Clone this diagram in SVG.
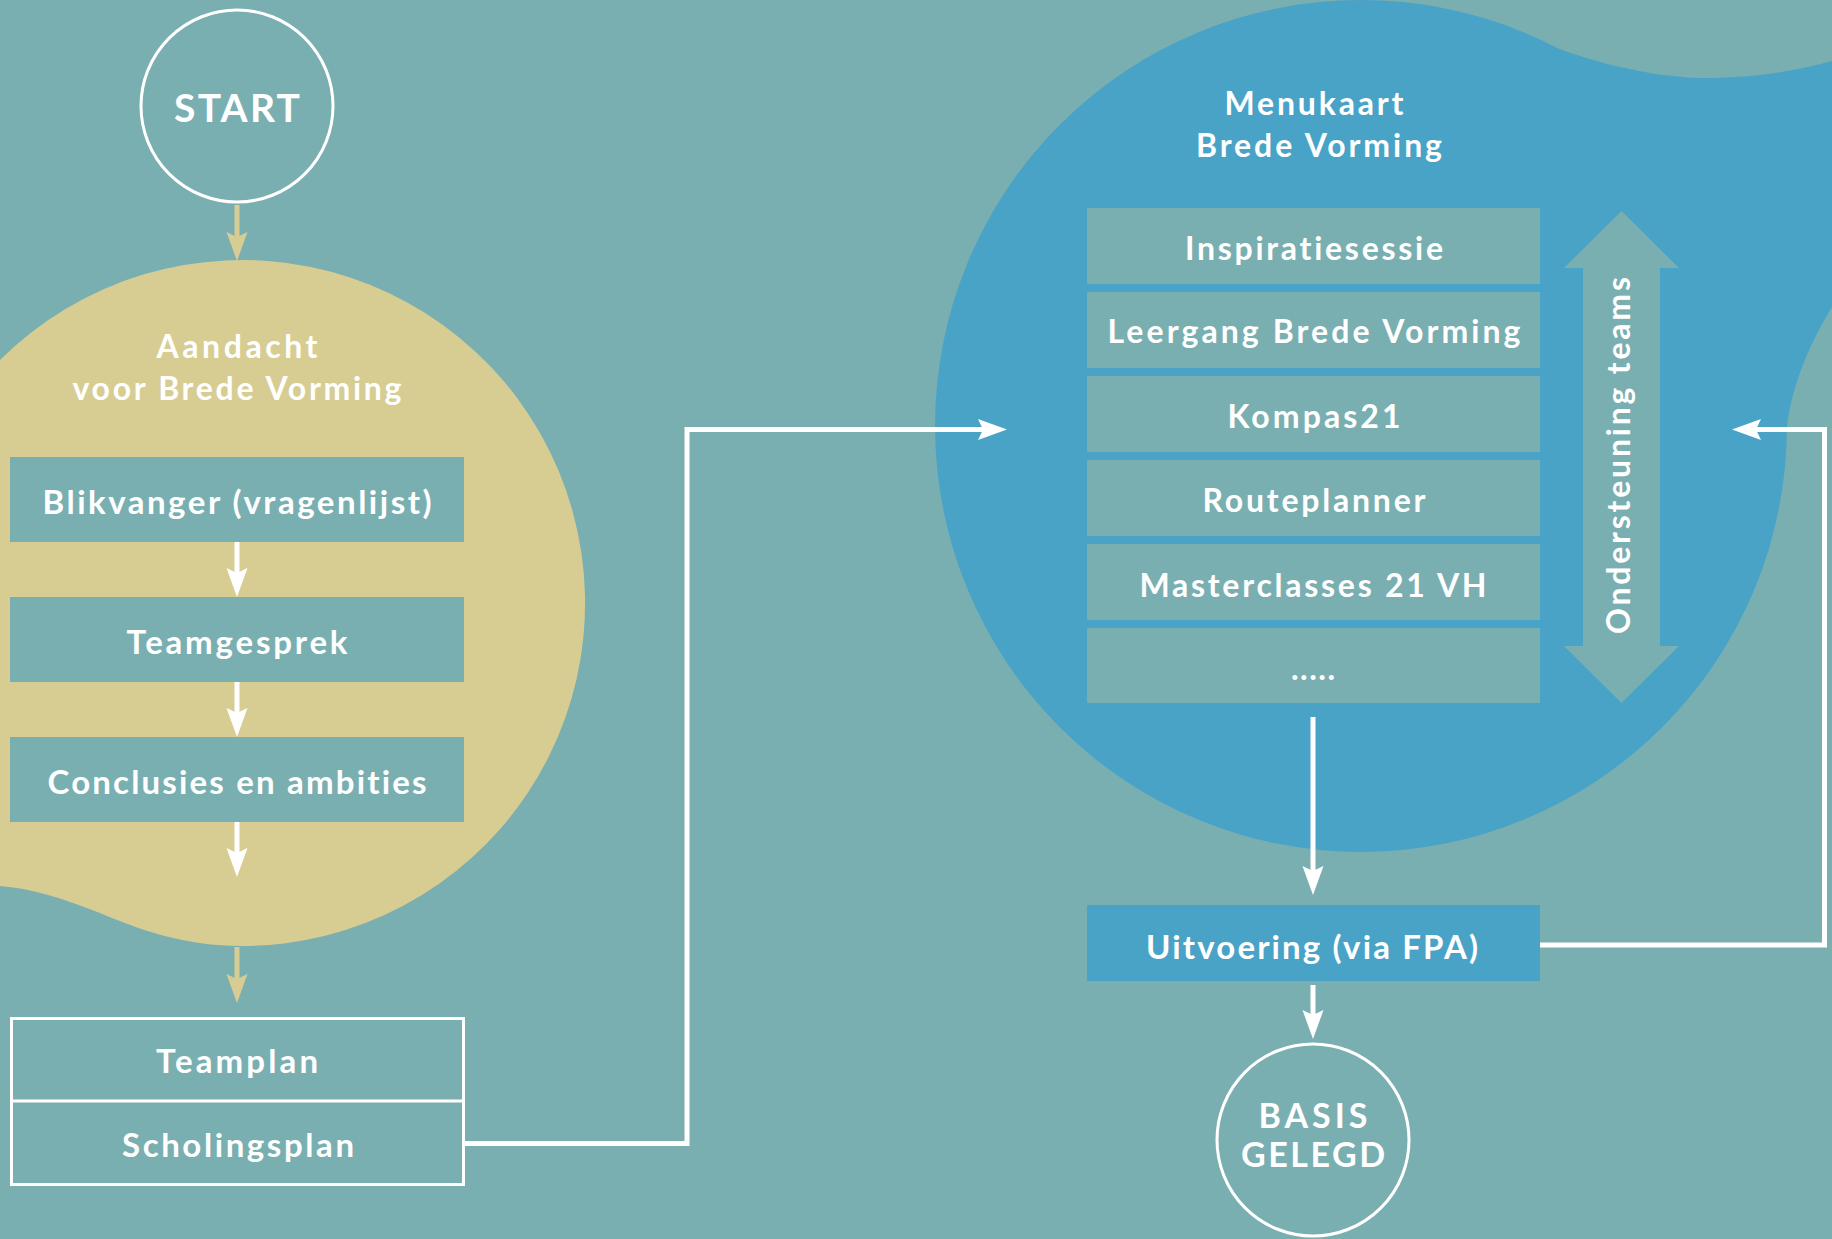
<svg xmlns="http://www.w3.org/2000/svg" xmlns:xlink="http://www.w3.org/1999/xlink" width="1832" height="1239" viewBox="0 0 1832 1239">
<style>
.t{fill:#fff;font-family:Lato,"Open Sans","DejaVu Sans",sans-serif;font-weight:700;text-anchor:middle;font-variant-ligatures:none;}
.box{fill:#7AAFB2;}
.wl{stroke:#fff;stroke-width:5;fill:none;}
.yl{stroke:#D7CD93;stroke-width:5;fill:none;}
</style>
<defs>
<path id="ah" d="M0,0 L-29,-10.5 L-24,0 L-29,10.5 Z"/>
</defs>
<rect x="0" y="0" width="1832" height="1239" fill="#7AAFB2"/>

<g id="aandacht">
<path d="M0,360 A343,343 0 1 1 242,946 C185,946 140,930 100,913 C65,899 30,888 0,886 Z" fill="#D7CD93"/>
<text class="t" x="237" y="358" font-size="32" textLength="161">Aandacht</text>
<text class="t" x="237" y="400" font-size="32" textLength="329">voor Brede Vorming</text>
</g>

<g id="menukaart">
<circle cx="1361" cy="426" r="426" fill="#49A3C7"/>
<path d="M1540,42 C1600,65 1660,79 1713,78 C1760,77 1800,70 1832,61 L1832,307 C1812,340 1793,380 1787,426 Z" fill="#49A3C7"/>
<text class="t" x="1314" y="115" font-size="32" textLength="179">Menukaart</text>
<text class="t" x="1319" y="157" font-size="32" textLength="246">Brede Vorming</text>
</g>

<g id="start">
<circle cx="237" cy="106" r="96" fill="none" stroke="#fff" stroke-width="3"/>
<text class="t" x="237" y="122" font-size="39" textLength="126">START</text>
</g>

<g id="blikvanger">
<rect class="box" x="10" y="457" width="454" height="85"/>
<text class="t" x="237" y="514" font-size="33" textLength="389">Blikvanger (vragenlijst)</text>
</g>
<g id="teamgesprek">
<rect class="box" x="10" y="597" width="454" height="85"/>
<text class="t" x="237" y="654" font-size="33" textLength="221">Teamgesprek</text>
</g>
<g id="conclusies">
<rect class="box" x="10" y="737" width="454" height="85"/>
<text class="t" x="237" y="794" font-size="33" textLength="379">Conclusies en ambities</text>
</g>

<g id="plannen">
<rect x="11.5" y="1018.5" width="452" height="166" fill="none" stroke="#fff" stroke-width="3"/>
<line x1="11.5" y1="1101" x2="463.5" y2="1101" stroke="#fff" stroke-width="3"/>
<text class="t" x="237" y="1073" font-size="33" textLength="162">Teamplan</text>
<text class="t" x="238" y="1157" font-size="33" textLength="232">Scholingsplan</text>
</g>

<g id="inspiratiesessie">
<rect class="box" x="1087" y="208" width="453" height="76"/>
<text class="t" x="1314" y="260" font-size="32" textLength="258">Inspiratiesessie</text>
</g>
<g id="leergang">
<rect class="box" x="1087" y="292" width="453" height="76"/>
<text class="t" x="1314" y="343" font-size="32" textLength="413">Leergang Brede Vorming</text>
</g>
<g id="kompas21">
<rect class="box" x="1087" y="376" width="453" height="76"/>
<text class="t" x="1314" y="428" font-size="32" textLength="173">Kompas21</text>
</g>
<g id="routeplanner">
<rect class="box" x="1087" y="460" width="453" height="76"/>
<text class="t" x="1314" y="512" font-size="32" textLength="223">Routeplanner</text>
</g>
<g id="masterclasses">
<rect class="box" x="1087" y="544" width="453" height="76"/>
<text class="t" x="1313" y="597" font-size="32" textLength="347">Masterclasses 21 VH</text>
</g>
<g id="meer">
<rect class="box" x="1087" y="628" width="453" height="75"/>
<text class="t" x="1313" y="680" font-size="32" textLength="44">.....</text>
</g>

<g id="ondersteuning">
<polygon points="1621.5,211 1679,268 1660,268 1660,646 1679,646 1621.5,703 1564,646 1583,646 1583,268 1564,268" fill="#7AAFB2"/>
<text class="t" transform="translate(1630,455.5) rotate(-90)" x="0" y="0" font-size="32" textLength="357">Ondersteuning teams</text>
</g>

<g id="uitvoering">
<rect x="1087" y="905" width="453" height="76" fill="#49A3C7"/>
<text class="t" x="1312" y="959" font-size="33" textLength="332">Uitvoering (via FPA)</text>
</g>

<g id="basis">
<circle cx="1313" cy="1140" r="96" fill="none" stroke="#fff" stroke-width="3"/>
<text class="t" x="1313" y="1128" font-size="34" textLength="109">BASIS</text>
<text class="t" x="1313" y="1167" font-size="34" textLength="144">GELEGD</text>
</g>

<g id="connectors">
<line class="yl" x1="237" y1="205" x2="237" y2="237"/>
<use href="#ah" fill="#D7CD93" transform="translate(237,261) rotate(90)"/>
<line class="wl" x1="237" y1="542" x2="237" y2="573"/>
<use href="#ah" fill="#fff" transform="translate(237,597) rotate(90)"/>
<line class="wl" x1="237" y1="682" x2="237" y2="713"/>
<use href="#ah" fill="#fff" transform="translate(237,737) rotate(90)"/>
<line class="wl" x1="237" y1="822" x2="237" y2="853"/>
<use href="#ah" fill="#fff" transform="translate(237,877) rotate(90)"/>
<line class="yl" x1="237" y1="947" x2="237" y2="979"/>
<use href="#ah" fill="#D7CD93" transform="translate(237,1003) rotate(90)"/>
<polyline class="wl" points="465,1143.5 687,1143.5 687,429.5 983,429.5"/>
<use href="#ah" fill="#fff" transform="translate(1007,429.5)"/>
<line class="wl" x1="1313" y1="717" x2="1313" y2="871"/>
<use href="#ah" fill="#fff" transform="translate(1313,895) rotate(90)"/>
<line class="wl" x1="1313" y1="985" x2="1313" y2="1015"/>
<use href="#ah" fill="#fff" transform="translate(1313,1039) rotate(90)"/>
<polyline class="wl" points="1540,945 1824.5,945 1824.5,429.5 1756,429.5"/>
<use href="#ah" fill="#fff" transform="translate(1732,429.5) rotate(180)"/>
</g>
</svg>
